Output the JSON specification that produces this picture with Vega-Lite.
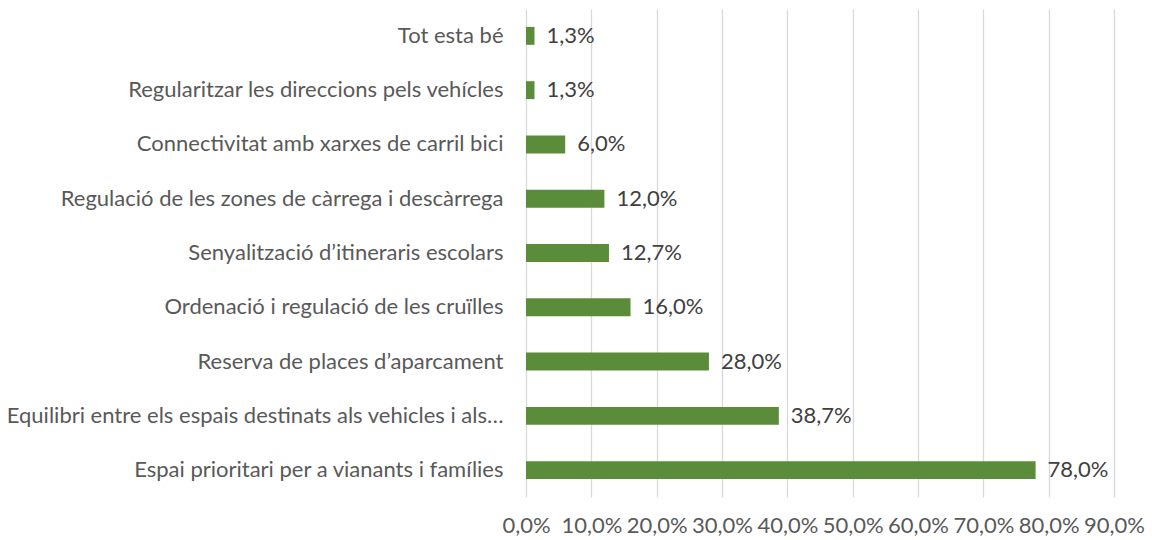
{
  "$schema": "https://vega.github.io/schema/vega-lite/v6.json",
  "width": 588,
  "height": 488,
  "autosize": {"type": "none"},
  "padding": {"left": 526, "top": 9, "right": 38, "bottom": 43},
  "background": "white",
  "data": {"values": [
    {"cat": "Tot esta bé", "v": 0.013},
    {"cat": "Regularitzar les direccions pels vehícles", "v": 0.013},
    {"cat": "Connectivitat amb xarxes de carril bici", "v": 0.06},
    {"cat": "Regulació de les zones de càrrega i descàrrega", "v": 0.12},
    {"cat": "Senyalització d’itineraris escolars", "v": 0.127},
    {"cat": "Ordenació i regulació de les cruïlles", "v": 0.16},
    {"cat": "Reserva de places d’aparcament", "v": 0.28},
    {"cat": "Equilibri entre els espais destinats als vehicles i als…", "v": 0.387},
    {"cat": "Espai prioritari per a vianants i famílies", "v": 0.78}
  ]},
  "config": {
    "view": {"stroke": null},
    "font": "Lato",
    "locale": {"number": {"decimal": ",", "thousands": ".", "grouping": [3], "currency": ["", " €"]}}
  },
  "encoding": {
    "y": {
      "field": "cat", "type": "nominal", "sort": null, "title": null,
      "scale": {"paddingInner": 0.67, "paddingOuter": 0.33},
      "axis": {"domain": false, "ticks": false, "grid": false, "labelFontSize": 22, "labelColor": "#595959", "labelPadding": 23, "labelLimit": 0}
    },
    "x": {
      "field": "v", "type": "quantitative", "title": null,
      "scale": {"domain": [0, 0.9], "nice": false},
      "axis": {"values": [0, 0.1, 0.2, 0.3, 0.4, 0.5, 0.6, 0.7, 0.8, 0.9], "format": ".1%", "labelOverlap": false, "labelFlush": false, "labelBound": false, "domain": false, "ticks": false, "grid": true, "gridColor": "#D9D9D9", "gridWidth": 1.3, "labelFontSize": 22, "labelColor": "#595959", "labelPadding": 18}
    }
  },
  "layer": [
    {"mark": {"type": "bar", "color": "#5B8C3A"}},
    {"mark": {"type": "text", "align": "left", "dx": 12, "fontSize": 22, "color": "#404040"},
     "encoding": {"text": {"field": "v", "type": "quantitative", "format": ".1%"}}}
  ]
}
